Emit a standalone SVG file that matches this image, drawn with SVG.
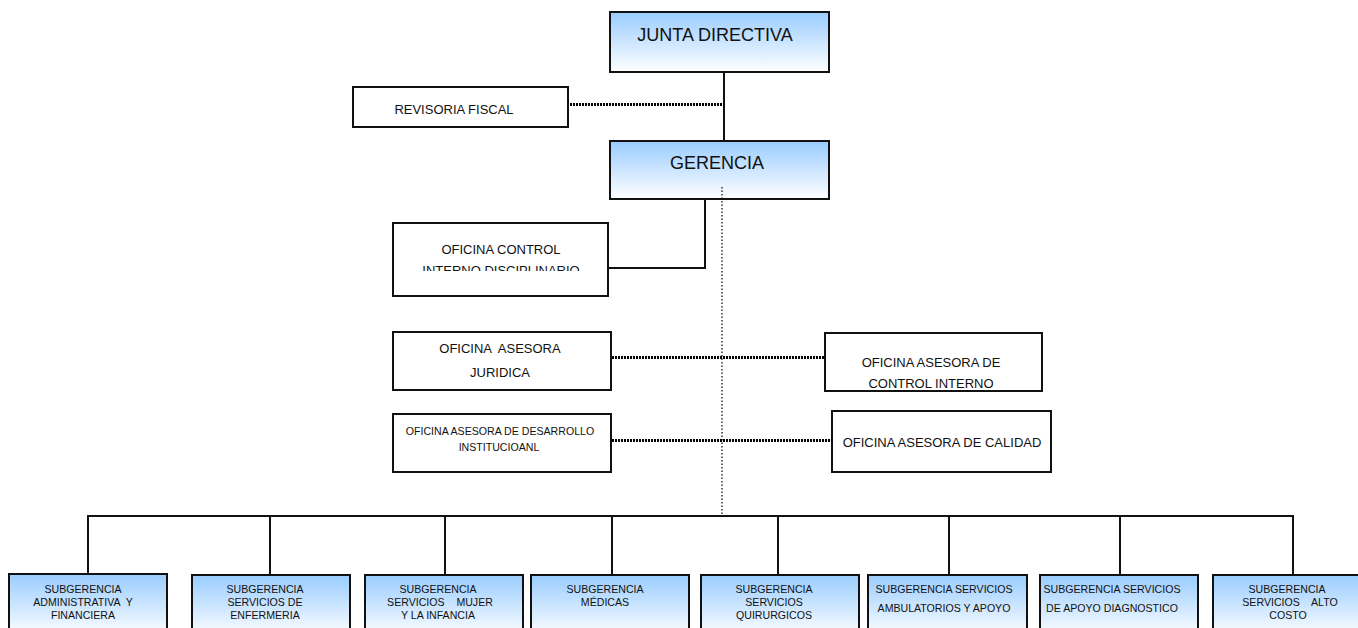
<svg xmlns="http://www.w3.org/2000/svg" width="1358" height="628" viewBox="0 0 1358 628">
<defs>
<linearGradient id="blueGrad" x1="0" y1="0" x2="0" y2="1">
<stop offset="0" stop-color="#99CCFF"/>
<stop offset="1" stop-color="#FFFFFF"/>
</linearGradient>
<clipPath id="clipCtrl"><rect x="393" y="223" width="215" height="48"/></clipPath>
</defs>
<style>
.box{fill:#fff;stroke:#111;stroke-width:2}
.gbox{fill:url(#blueGrad);stroke:#111;stroke-width:2}
text{font-family:"Liberation Sans",Arial,sans-serif;fill:#111;text-anchor:middle}
.big{font-size:18px}
.mid{font-size:13px}
.sm{font-size:10.6px}
.solid{stroke:#111;stroke-width:2;fill:none}
.dotH{stroke:#000;stroke-width:3;stroke-dasharray:2 1;fill:none;shape-rendering:crispEdges}
.dotV{stroke:#111;stroke-width:1.3;stroke-dasharray:1.5 2;fill:none}
</style>
<g id="junta">
<rect class="gbox" x="610" y="12" width="219" height="60"/>
<text class="big" x="715" y="41">JUNTA DIRECTIVA</text>
</g>
<g id="revisoria">
<rect class="box" x="353" y="87" width="215" height="40"/>
<text class="mid" x="454" y="114">REVISORIA FISCAL</text>
</g>
<g id="gerencia">
<rect class="gbox" x="610" y="141" width="219" height="58"/>
<text class="big" x="717" y="169">GERENCIA</text>
</g>
<g id="control-disciplinario">
<rect class="box" x="393" y="223" width="215" height="73"/>
<text class="mid" x="501" y="254">OFICINA CONTROL</text>
<text class="mid" x="501" y="275" clip-path="url(#clipCtrl)">INTERNO DISCIPLINARIO</text>
</g>
<g id="juridica">
<rect class="box" x="393" y="332" width="218" height="58"/>
<text class="mid" x="500" y="353" xml:space="preserve">OFICINA  ASESORA</text>
<text class="mid" x="500" y="377">JURIDICA</text>
</g>
<g id="control-interno">
<rect class="box" x="825" y="333" width="217" height="58"/>
<text class="mid" x="931" y="367">OFICINA ASESORA DE</text>
<text class="mid" x="931" y="388">CONTROL INTERNO</text>
</g>
<g id="desarrollo">
<rect class="box" x="393" y="414" width="218" height="58"/>
<text class="sm" x="500" y="435">OFICINA ASESORA DE DESARROLLO</text>
<text class="sm" x="499" y="451">INSTITUCIOANL</text>
</g>
<g id="calidad">
<rect class="box" x="832" y="411" width="219" height="61"/>
<text class="mid" x="942" y="447">OFICINA ASESORA DE CALIDAD</text>
</g>
<g id="sub-administrativa">
<rect class="gbox" x="9" y="574" width="158" height="62"/>
<text class="sm" x="83" y="593">SUBGERENCIA</text>
<text class="sm" x="83" y="606" xml:space="preserve">ADMINISTRATIVA  Y</text>
<text class="sm" x="83" y="619">FINANCIERA</text>
</g>
<g id="sub-enfermeria">
<rect class="gbox" x="192" y="575" width="158" height="62"/>
<text class="sm" x="265" y="593">SUBGERENCIA</text>
<text class="sm" x="265" y="606">SERVICIOS DE</text>
<text class="sm" x="265" y="619">ENFERMERIA</text>
</g>
<g id="sub-mujer">
<rect class="gbox" x="365" y="575" width="158" height="62"/>
<text class="sm" x="438" y="593">SUBGERENCIA</text>
<text class="sm" x="440" y="606" xml:space="preserve">SERVICIOS    MUJER</text>
<text class="sm" x="438" y="619">Y LA INFANCIA</text>
</g>
<g id="sub-medicas">
<rect class="gbox" x="531" y="575" width="158" height="62"/>
<text class="sm" x="605" y="593">SUBGERENCIA</text>
<text class="sm" x="605" y="606">MÉDICAS</text>
</g>
<g id="sub-quirurgicos">
<rect class="gbox" x="701" y="575" width="158" height="62"/>
<text class="sm" x="774" y="593">SUBGERENCIA</text>
<text class="sm" x="774" y="606">SERVICIOS</text>
<text class="sm" x="774" y="619">QUIRURGICOS</text>
</g>
<g id="sub-ambulatorios">
<rect class="gbox" x="868" y="575" width="159" height="62"/>
<text class="sm" x="944" y="593">SUBGERENCIA SERVICIOS</text>
<text class="sm" x="944" y="612">AMBULATORIOS Y APOYO</text>
</g>
<g id="sub-diagnostico">
<rect class="gbox" x="1040" y="575" width="158" height="62"/>
<text class="sm" x="1112" y="593">SUBGERENCIA SERVICIOS</text>
<text class="sm" x="1112" y="612">DE APOYO DIAGNOSTICO</text>
</g>
<g id="sub-alto-costo">
<rect class="gbox" x="1213" y="575" width="160" height="62"/>
<text class="sm" x="1287" y="593">SUBGERENCIA</text>
<text class="sm" x="1290" y="606" xml:space="preserve">SERVICIOS    ALTO</text>
<text class="sm" x="1288" y="619">COSTO</text>
</g>
<g id="connectors">
<line class="solid" x1="724" y1="72" x2="724" y2="141"/>
<line class="dotH" x1="570" y1="104" x2="724" y2="104"/>
<polyline class="solid" points="705,199 705,268 608,268"/>
<line class="dotV" x1="722" y1="187" x2="722" y2="516"/>
<line class="dotH" x1="612" y1="357" x2="825" y2="357"/>
<line class="dotH" x1="612" y1="440" x2="832" y2="440"/>
<line class="solid" x1="87" y1="516" x2="1294" y2="516"/>
<line class="solid" x1="88" y1="516" x2="88" y2="574"/>
<line class="solid" x1="270" y1="516" x2="270" y2="574"/>
<line class="solid" x1="445" y1="516" x2="445" y2="574"/>
<line class="solid" x1="612" y1="516" x2="612" y2="574"/>
<line class="solid" x1="778" y1="516" x2="778" y2="574"/>
<line class="solid" x1="949" y1="516" x2="949" y2="574"/>
<line class="solid" x1="1120" y1="516" x2="1120" y2="574"/>
<line class="solid" x1="1293" y1="516" x2="1293" y2="574"/>
</g>
</svg>
